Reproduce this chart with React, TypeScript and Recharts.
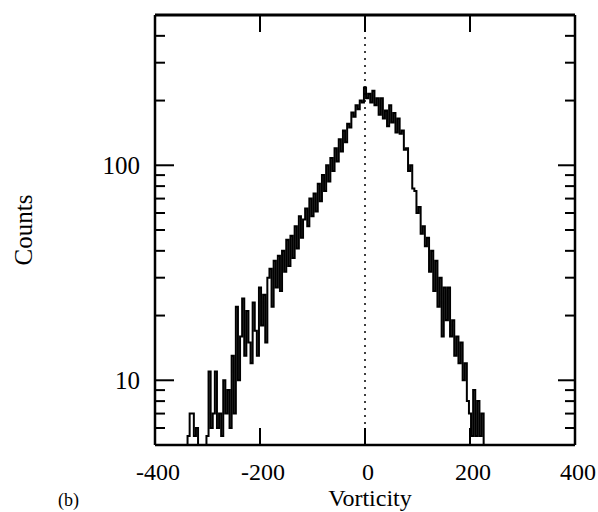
import { ComposedChart, Line, XAxis, YAxis, ReferenceLine } from "recharts";

// histogram bins, 4 vorticity units wide, starting at -340
const BIN_START = -340;
const BIN_WIDTH = 4;

// counts (1 = empty bin, falls below the axis)
const tailCounts = [
  1, 5.5, 7, 7, 5.5, 6, 1, 1, 1, 1, 5.5, 11, 6, 7, 11, 6, 7, 5.5, 10, 7, 9, 6,
  13,
];
const risingCounts = [
  7, 22, 10, 16, 24, 13, 21, 15, 12, 23, 17, 13, 27, 18, 25, 15, 30, 33, 22, 36,
  27, 38, 26, 40, 32, 45, 34, 47, 37, 52, 41, 58, 46, 56, 63, 52, 70, 58, 74, 61,
  82, 68, 90, 76, 100, 84, 108, 94, 120, 104, 132, 116, 145, 128, 156, 150, 176,
  168, 190, 182, 200, 196,
];
const fallingCounts = [
  230, 205, 215, 196, 222, 190, 205, 172, 205, 165, 180, 152, 190, 158, 175, 142,
  165, 140, 145, 118, 120, 94, 100, 78, 76, 60, 64, 48, 52, 42, 46, 32, 40, 26,
  36, 22, 30, 16, 27, 19, 27, 16, 19, 13, 16, 12, 15, 10, 12, 8, 7, 5.5, 9, 5.5,
  8, 5.5, 7, 1,
];

const xTicks = [-400, -200, 0, 200, 400];
const yTicks = [6, 7, 8, 9, 10, 20, 30, 40, 50, 60, 70, 80, 90, 100, 200, 300, 400];
const yLabels = [10, 100];

const counts = [...tailCounts, ...risingCounts, ...fallingCounts];
const data = counts.map((count, i) => ({
  vorticity: BIN_START + i * BIN_WIDTH,
  count,
}));

const FONT = '"Liberation Serif", "Times New Roman", serif';
const INK = "#000";

function LeftTick({ x, y, payload }: any) {
  const major = yLabels.includes(payload.value);
  return (
    <g>
      <line x1={x} x2={x + (major ? 19 : 10)} y1={y} y2={y} stroke={INK} strokeWidth={2} />
      {major && (
        <text
          x={x - 15}
          y={y}
          dy="0.35em"
          textAnchor="end"
          fontSize={25}
          fontFamily={FONT}
          fill={INK}
        >
          {payload.value}
        </text>
      )}
    </g>
  );
}

function RightTick({ x, y, payload }: any) {
  const major = yLabels.includes(payload.value);
  return (
    <line x1={x} x2={x - (major ? 17 : 10)} y1={y} y2={y} stroke={INK} strokeWidth={2} />
  );
}

function BottomTick({ x, y, payload }: any) {
  return (
    <g>
      <line x1={x} x2={x} y1={y} y2={y - 17} stroke={INK} strokeWidth={2} />
      <text
        x={x + 3}
        y={y + 35}
        textAnchor="middle"
        fontSize={24}
        fontFamily={FONT}
        fill={INK}
      >
        {payload.value}
      </text>
    </g>
  );
}

function TopTick({ x, y }: any) {
  return <line x1={x} x2={x} y1={y} y2={y + 17} stroke={INK} strokeWidth={2} />;
}

function App() {
  return (
    <div style={{ position: "absolute", left: 0, top: 0 }}>
      <ComposedChart
        width={598}
        height={512}
        data={data}
        margin={{ top: 0, right: 0, bottom: 0, left: 0 }}
      >
        <XAxis
          xAxisId="bottom"
          dataKey="vorticity"
          type="number"
          domain={[-400, 400]}
          ticks={xTicks}
          interval={0}
          height={67}
          tickSize={0}
          tickMargin={0}
          tickLine={false}
          axisLine={{ stroke: INK, strokeWidth: 2.5 }}
          tick={BottomTick}
          label={(props: any) => {
            const vb = props.viewBox;
            return (
              <text
                x={vb.x + vb.width / 2 + 5}
                y={506}
                textAnchor="middle"
                fontSize={24}
                fontFamily={FONT}
                fill={INK}
              >
                Vorticity
              </text>
            );
          }}
        />
        <XAxis
          xAxisId="top"
          orientation="top"
          dataKey="vorticity"
          type="number"
          domain={[-400, 400]}
          ticks={xTicks}
          interval={0}
          height={15}
          tickSize={0}
          tickMargin={0}
          tickLine={false}
          axisLine={{ stroke: INK, strokeWidth: 3 }}
          tick={TopTick}
        />
        <YAxis
          yAxisId="left"
          scale="log"
          domain={[5, 500]}
          allowDataOverflow
          ticks={yTicks}
          interval={0}
          width={155}
          tickSize={0}
          tickMargin={0}
          tickLine={false}
          axisLine={{ stroke: INK, strokeWidth: 2.5 }}
          tick={LeftTick}
          label={(props: any) => {
            const vb = props.viewBox;
            const cy = vb.y + vb.height / 2;
            return (
              <text
                x={23}
                y={cy}
                transform={`rotate(-90 23 ${cy})`}
                textAnchor="middle"
                dominantBaseline="central"
                fontSize={25}
                fontFamily={FONT}
                fill={INK}
              >
                Counts
              </text>
            );
          }}
        />
        <YAxis
          yAxisId="right"
          orientation="right"
          scale="log"
          domain={[5, 500]}
          allowDataOverflow
          ticks={yTicks}
          interval={0}
          width={23}
          tickSize={0}
          tickMargin={0}
          tickLine={false}
          axisLine={{ stroke: INK, strokeWidth: 2.5 }}
          tick={RightTick}
        />
        <ReferenceLine
          xAxisId="bottom"
          yAxisId="left"
          x={0}
          stroke={INK}
          strokeWidth={1.5}
          strokeDasharray="2 5"
        />
        <Line
          xAxisId="bottom"
          yAxisId="left"
          dataKey="count"
          type="step"
          stroke={INK}
          strokeWidth={2}
          dot={false}
          isAnimationActive={false}
        />
      </ComposedChart>
      <div
        style={{
          position: "absolute",
          left: 58,
          top: 490,
          fontFamily: FONT,
          fontSize: 18,
          lineHeight: "20px",
        }}
      >
        (b)
      </div>
    </div>
  );
}

export default App;
